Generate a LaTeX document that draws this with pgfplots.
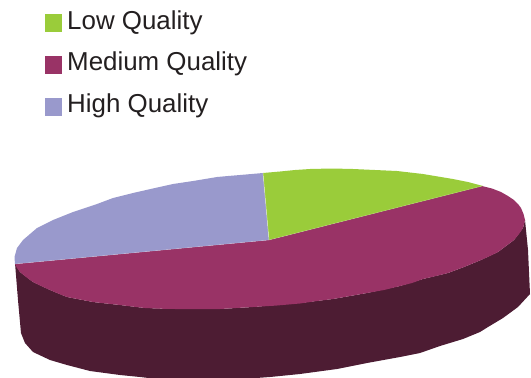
\documentclass[border=0pt]{standalone}
\usepackage{fontspec}
\setmainfont{Liberation Sans}
\usepackage{pgfplots}
\pgfplotsset{compat=1.18}
\definecolor{lowq}{HTML}{9ACC3A}
\definecolor{medq}{HTML}{993366}
\definecolor{highq}{HTML}{9999CC}
\definecolor{wall}{HTML}{4D1C33}
\definecolor{ink}{HTML}{231F20}
\begin{document}
\begin{tikzpicture}
\useasboundingbox (0,0) rectangle (531pt,378pt);
\begin{axis}[
  at={(0,0)}, anchor=south west,
  scale only axis, width=531pt, height=378pt,
  xmin=0, xmax=531, ymin=0, ymax=378, y dir=reverse,
  hide axis,
]
% outer wall of the medium slice
\addplot[fill=wall, draw=none] coordinates {
  (15,263) (18,300) (21,333) (25,343) (33,352) (50,360) (67,365) (90,371) (120,375)
  (140,377) (157,379) (200,381) (243,379) (270,377) (300,374) (337,369) (367,363)
  (400,357) (420,353) (440,346) (463,339) (480,332) (488,327) (503,318) (518,307)
  (530,294) (528,250) (525,220) (523,228) (514,240) (498,252) (481,260) (464,267)
  (448,273) (423,279) (400,286) (367,293) (333,299) (300,303) (253,307) (220,309)
  (197,309) (175,309) (145,308) (120,305) (93,302) (67,297) (50,290) (33,282) (20,272)
} -- cycle;
% medium slice
\addplot[fill=medq, draw=none] coordinates {
  (269,240) (482,186) (492,188.5) (501,192) (508,196) (514,200) (518,204) (521,208)
  (523.5,214) (525,220) (523,228) (519,234) (514,240) (506,246) (498,252) (490,256)
  (481,260) (464,267) (448,273) (436,276) (423,279) (412,283) (400,286) (384,290)
  (367,293) (350,296) (333,299) (317,301) (300,303.5) (277,305.5) (253,307) (236,308)
  (220,309) (197,309) (175,309) (160,308.7) (145,308) (132,306.5) (120,305) (106,303.5)
  (93,302) (80,299.5) (67,297) (58,293.5) (50,290) (41,286) (33,282) (26,277) (20,272)
  (17,268) (15,264)
} -- cycle;
% high slice
\addplot[fill=highq, draw=none] coordinates {
  (269,240) (15,264) (14.5,257) (17,248) (23,240) (30,234) (37,228) (45,224) (53,220)
  (63,216) (73,212) (85,208) (97,204) (113,198) (133,193) (144,190.5) (155,188) (173,184)
  (193,181) (205,179) (217,177) (228,176) (240,175) (263,173)
} -- cycle;
% low slice
\addplot[fill=lowq, draw=none] coordinates {
  (269,240) (263,173) (280,171.5) (295,170) (310,169) (332,168.5) (353,169) (375,170)
  (397,171) (410,172.5) (423,174) (438,176.5) (453,179) (468,182) (483,186)
} -- cycle;
% pale seams between the slices
\addplot[draw=white, opacity=0.55, line width=0.5pt] coordinates {(263,173) (269,240)};
\addplot[draw=white, opacity=0.25, line width=0.4pt] coordinates {(15,264) (269,240) (482,186)};
% legend swatches and entries
\addplot[only marks, mark=square*, mark size=8.3pt, mark options={fill=lowq, draw=lowq, line width=0pt}]
  coordinates {(53.5,23)};
\addplot[only marks, mark=square*, mark size=8.3pt, mark options={fill=medq, draw=medq, line width=0pt}]
  coordinates {(53.5,65)};
\addplot[only marks, mark=square*, mark size=8.3pt, mark options={fill=highq, draw=highq, line width=0pt}]
  coordinates {(53.5,107)};
\node[anchor=base west, inner sep=0pt, text=ink, font=\fontsize{25.9}{26}\selectfont] at (axis cs:67,29) {Low Quality};
\node[anchor=base west, inner sep=0pt, text=ink, font=\fontsize{25.9}{26}\selectfont] at (axis cs:67,70) {Medium Quality};
\node[anchor=base west, inner sep=0pt, text=ink, font=\fontsize{25.9}{26}\selectfont] at (axis cs:67,112) {High Quality};
\end{axis}
\end{tikzpicture}
\end{document}
